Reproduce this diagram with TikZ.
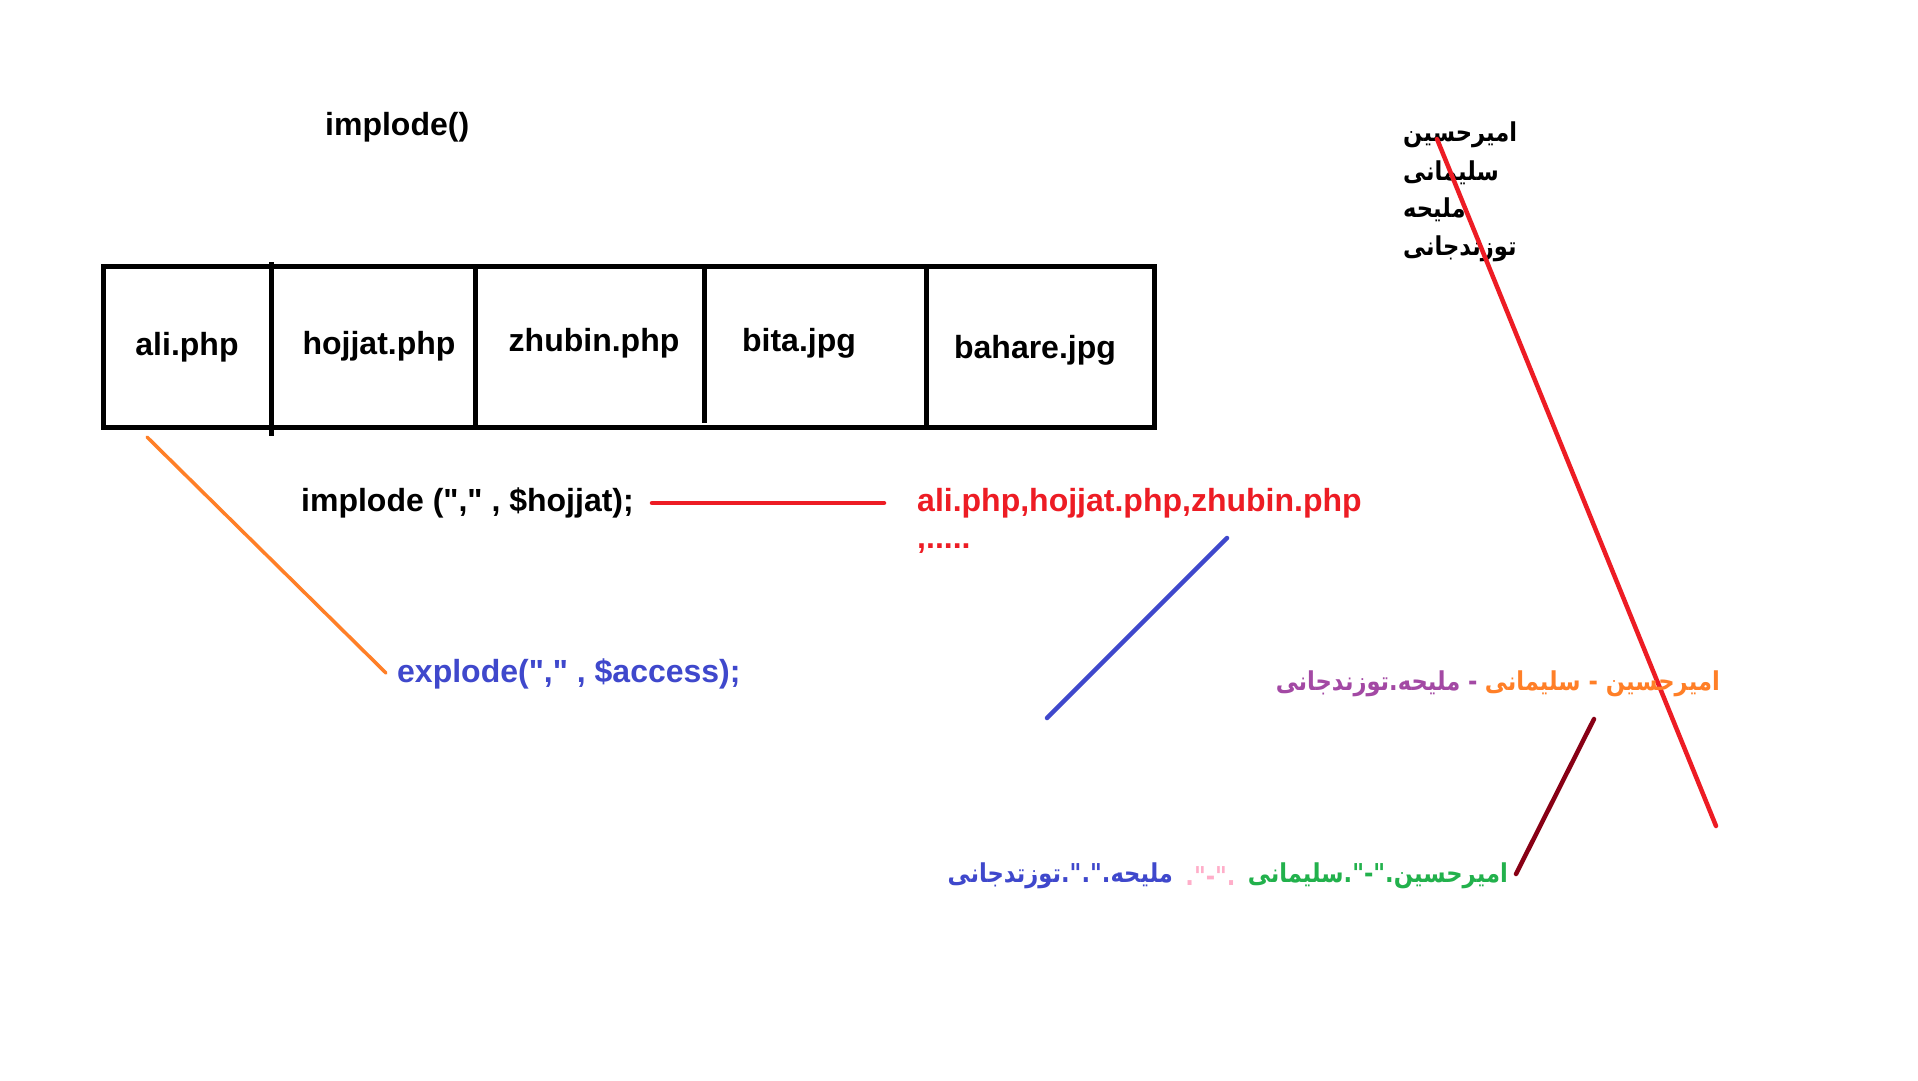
\documentclass[tikz,border=0pt]{standalone}
\usepackage{fontspec}
\setmainfont{Liberation Sans}
\newfontfamily\latinfont{Liberation Sans}
\newfontfamily\arabicfont[Script=Arabic, FakeStretch=0.87]{DejaVu Sans}
\TeXXeTstate=1
\definecolor{pred}{HTML}{ED1C24}
\definecolor{porange}{HTML}{FF7F27}
\definecolor{pblue}{HTML}{3F48CC}
\definecolor{ppurple}{HTML}{A349A4}
\definecolor{pgreen}{HTML}{22B14C}
\definecolor{ppink}{HTML}{FFAEC9}
\definecolor{pdarkred}{HTML}{880015}
\begin{document}
\begin{tikzpicture}[x=1pt,y=-1pt,
  lbl/.style={inner sep=0pt, font=\fontsize{32}{38}\selectfont\latinfont\bfseries},
  ara/.style={inner sep=0pt, font=\fontsize{26}{30}\selectfont\arabicfont\bfseries},
  boxline/.style={line width=5pt},
  conn/.style={line width=4.5pt, line cap=round}]
\useasboundingbox[fill=white] (0,0) rectangle (1918,1080);

% title
\node[lbl, anchor=west] (title) at (325,127) {implode()};

% array box
\node[boxline, draw, minimum width=1051pt, minimum height=161pt, inner sep=0pt] (box) at (628.5,346.5) {};
\coordinate (d1t) at (271,262); \coordinate (d1b) at (271,436);
\coordinate (d2t) at (475,268); \coordinate (d2b) at (475,425);
\coordinate (d3t) at (704,268); \coordinate (d3b) at (704,423);
\coordinate (d4t) at (926,266); \coordinate (d4b) at (926,430);
\draw[boxline] (d1t) -- (d1b);
\draw[boxline] (d2t) -- (d2b);
\draw[boxline] (d3t) -- (d3b);
\draw[boxline] (d4t) -- (d4b);

\node[lbl] (c1) at (187,347) {ali.php};
\node[lbl] (c2) at (379,346) {hojjat.php};
\node[lbl] (c3) at (594,343) {zhubin.php};
\node[lbl] (c4) at (799,343) {bita.jpg};
\node[lbl] (c5) at (1035,350) {bahare.jpg};

% implode line
\node[lbl, anchor=west] (imp) at (301,503) {implode ("," , \$hojjat);};
\coordinate (r1) at (652,503); \coordinate (r2) at (884,503);
\draw[conn, pred] (r1) -- (r2);
\node[lbl, anchor=west, text=pred] (res) at (917,503) {ali.php,hojjat.php,zhubin.php};
\node[lbl, anchor=base west, text=pred] (dots) at (917,548) {,.....};

% explode
\coordinate (o1) at (147,437); \coordinate (o2) at (386,673);
\draw[line width=3.5pt, line cap=round, porange] (o1) -- (o2);
\node[lbl, anchor=west, text=pblue] (exp) at (397,674) {explode("," , \$access);};

% blue line
\coordinate (b1) at (1227,538); \coordinate (b2) at (1047,718);
\draw[conn, pblue] (b1) -- (b2);

% black persian list
\node[ara, anchor=west] (n1) at (1403,135) {\beginR امیرحسین\endR};
\node[ara, anchor=west] (n2) at (1403,173) {\beginR سلیمانی\endR};
\node[ara, anchor=west] (n3) at (1403,210) {\beginR ملیحه\endR};
\node[ara, anchor=west] (n4) at (1403,249) {\beginR توزندجانی\endR};

% long red line
\coordinate (L1) at (1437,139); \coordinate (L2) at (1716,826);
\draw[conn, pred] (L1) -- (L2);

% orange / purple line
\node[ara, anchor=east, text=porange] (s1) at (1720,684) {\beginR امیرحسین - سلیمانی\endR};
\node[ara, anchor=east, text=ppurple] (s2) at ([xshift=-7pt]s1.west) {\beginR - ملیحه.توزندجانی\endR};

% dark red line
\coordinate (k1) at (1594,719); \coordinate (k2) at (1516,874);
\draw[conn, pdarkred] (k1) -- (k2);

% bottom line
\node[ara, anchor=east, text=pgreen] (t1) at (1508,876) {\beginR امیرحسین."-".سلیمانی\endR};
\node[ara, anchor=east, text=ppink] (t2) at ([xshift=-12pt]t1.west) {."-".};
\node[ara, anchor=east, text=pblue] (t3) at ([xshift=-12pt]t2.west) {\beginR ملیحه.".".توزتدجانی\endR};
\end{tikzpicture}
\end{document}
